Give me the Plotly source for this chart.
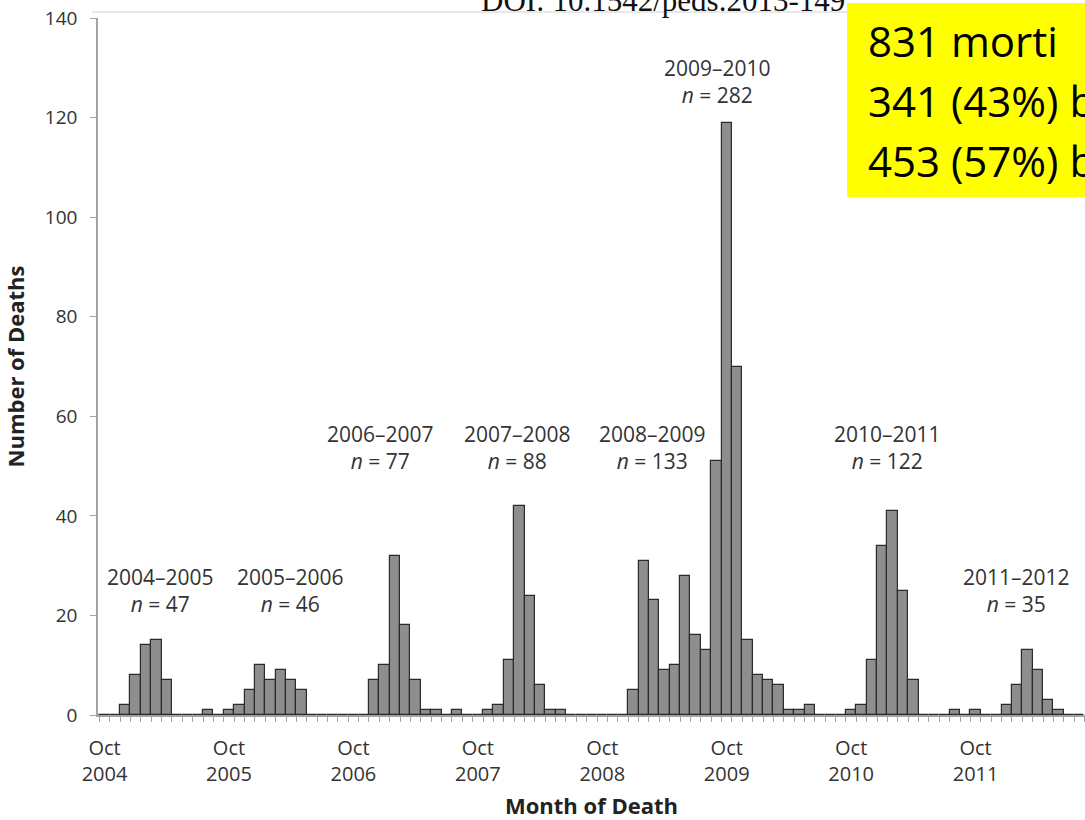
import plotly.graph_objects as go
import pandas as pd

# ---------------- data ----------------
# monthly pediatric influenza deaths, Oct 2004 .. Aug 2012 (one value per month)
month_labels = pd.date_range("2004-10-01", periods=95, freq="MS").strftime("%b %Y").tolist()
deaths = [
    0, 0, 2, 8, 14, 15, 7, 0, 0, 0, 1, 0,        # Oct 2004 - Sep 2005
    1, 2, 5, 10, 7, 9, 7, 5, 0, 0, 0, 0,         # Oct 2005 - Sep 2006
    0, 0, 7, 10, 32, 18, 7, 1, 1, 0, 1, 0,       # Oct 2006 - Sep 2007
    0, 1, 2, 11, 42, 24, 6, 1, 1, 0, 0, 0,       # Oct 2007 - Sep 2008
    0, 0, 0, 5, 31, 23, 9, 10, 28, 16, 13, 51,   # Oct 2008 - Sep 2009
    119, 70, 15, 8, 7, 6, 1, 1, 2, 0, 0, 0,      # Oct 2009 - Sep 2010
    1, 2, 11, 34, 41, 25, 7, 0, 0, 0, 1, 0,      # Oct 2010 - Sep 2011
    1, 0, 0, 2, 6, 13, 9, 3, 1, 0, 0,            # Oct 2011 - Aug 2012
]
tick_positions = [0, 12, 24, 36, 48, 60, 72, 84]
tick_text = ["Oct<br>2004", "Oct<br>2005", "Oct<br>2006", "Oct<br>2007",
             "Oct<br>2008", "Oct<br>2009", "Oct<br>2010", "Oct<br>2011"]

season_labels = ["2004–2005", "2005–2006", "2006–2007", "2007–2008",
                 "2008–2009", "2009–2010", "2010–2011", "2011–2012"]
season_n = [47, 46, 77, 88, 133, 282, 122, 35]

box_lines = ["831 morti", "341 (43%) b", "453 (57%) b"]
doi_text = "DOI: 10.1542/peds.2013-149"

# ---------------- layout helpers (positions only) ----------------
season_x = [5.35, 17.92, 26.57, 39.78, 52.8, 59.15, 75.46, 87.99]
season_y = [25.1, 25.1, 53.7, 53.7, 53.7, 127.3, 53.7, 25.1]

W, H = 1085, 820
ML, MR, MT, MB = 98, 0, 18, 105
PW, PH = W - ML - MR, H - MT - MB


def px_x(px):
    return (px - ML) / PW


def px_y(py):
    return (H - MB - py) / PH


FONT = "Open Sans"
TXT = "#333333"
AXC = "#a3a3a3"

x_idx = list(range(len(deaths)))

fig = go.Figure(
    go.Bar(
        x=x_idx,
        y=deaths,
        width=1.0,
        marker=dict(color="#8e8e8e", line=dict(color="#2a2a2a", width=1.2)),
        hovertext=month_labels,
        hoverinfo="text+y",
    )
)

annotations = []
for lab, n, xx, yy in zip(season_labels, season_n, season_x, season_y):
    annotations.append(dict(
        x=xx, y=yy, xref="x", yref="y",
        text=f"{lab}<br><i>n</i> = {n}",
        showarrow=False, xanchor="center", yanchor="middle",
        font=dict(family=FONT, size=21, color=TXT),
    ))

# DOI fragment at the top (partially clipped)
annotations.append(dict(
    x=px_x(479), y=px_y(20), xref="paper", yref="paper",
    text=doi_text, showarrow=False, xanchor="left", yanchor="bottom",
    font=dict(family="Liberation Serif", size=31, color="#111111"),
))

# yellow box text
for line, cy in zip(box_lines, [41, 100, 160]):
    annotations.append(dict(
        x=px_x(866), y=px_y(cy), xref="paper", yref="paper",
        text=line, showarrow=False, xanchor="left", yanchor="middle",
        font=dict(family=FONT, size=42, color="#000000"),
    ))

shapes = [
    # white band at the top with a thin grey border line
    dict(type="rect", xref="paper", yref="paper",
         x0=-0.2, x1=px_x(848), y0=px_y(12), y1=px_y(-20),
         fillcolor="white", line=dict(width=0), layer="above"),
    dict(type="line", xref="paper", yref="paper",
         x0=px_x(92), x1=px_x(848), y0=px_y(12), y1=px_y(12),
         line=dict(color="#d0d0d0", width=1), layer="above"),
    # yellow box
    dict(type="rect", xref="paper", yref="paper",
         x0=px_x(847), x1=px_x(1200), y0=px_y(197), y1=px_y(3),
         fillcolor="#ffff00", line=dict(width=0), layer="above"),
]

fig.update_layout(
    width=W, height=H,
    margin=dict(l=ML, r=MR, t=MT, b=MB),
    paper_bgcolor="white", plot_bgcolor="white",
    bargap=0, showlegend=False,
    annotations=annotations, shapes=shapes,
    xaxis=dict(
        range=[-0.63, 94.55],
        tickmode="array", tickvals=tick_positions, ticktext=tick_text,
        ticks="", ticklabelstandoff=14,
        tickfont=dict(family=FONT, size=20, color=TXT),
        showline=True, linecolor=AXC, linewidth=1.5,
        showgrid=False, zeroline=False,
        minor=dict(tickmode="linear", tick0=-0.5, dtick=1, ticks="outside",
                   ticklen=5, tickcolor=AXC, tickwidth=1, showgrid=False),
        title=dict(text="Month of Death", standoff=15,
                   font=dict(family=FONT, size=22, color="#222222", weight="bold")),
    ),
    yaxis=dict(
        range=[0, 140], tickmode="linear", tick0=0, dtick=20,
        ticks="outside", ticklen=6, tickcolor=AXC, tickwidth=1,
        ticklabelstandoff=9,
        tickfont=dict(family=FONT, size=19, color=TXT),
        showline=True, linecolor=AXC, linewidth=1.5,
        showgrid=False, zeroline=False,
        title=dict(text="Number of Deaths", standoff=14,
                   font=dict(family=FONT, size=22, color="#222222", weight="bold")),
    ),
)

fig.write_html(
    "out.html",
    config={"displayModeBar": False},
    post_script=(
        "document.documentElement.style.margin='0';"
        "document.body.style.margin='0';document.body.style.padding='0';"
        "document.documentElement.style.overflow='hidden';"
        "document.body.style.overflow='hidden';"
    ),
)
